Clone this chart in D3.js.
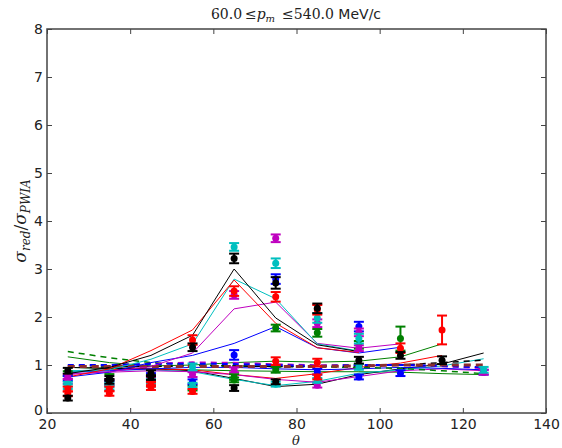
<!DOCTYPE html>
<html>
<head>
<meta charset="utf-8">
<script src="https://cdn.jsdelivr.net/npm/d3@7"></script>
<style>
  html, body { margin: 0; padding: 0; background: #fff; }
  svg { display: block; }
</style>
</head>
<body>
<svg id="chart" width="562" height="448"></svg>
<script>
// Axis ticks
const xTicks = [20, 40, 60, 80, 100, 120, 140];
const yTicks = [0, 1, 2, 3, 4, 5, 6, 7, 8];

// Matplotlib classic colour letters
const colors = { b: "#0000ff", g: "#008000", r: "#ff0000", c: "#00bfbf", m: "#bf00bf", k: "#000000" };

// Measured ratios: [theta, value, error] grouped by colour
const pointsK = [[25,0.88,0.06],[25,0.31,0.05],[35,0.72,0.05],[35,0.66,0.05],[45,0.83,0.06],[45,0.74,0.05],[55,1.37,0.08],[65,3.22,0.1],[65,0.52,0.06],[75,2.71,0.12],[75,0.65,0.05],[85,2.18,0.1],[95,1.1,0.07],[105,1.2,0.07],[115,1.1,0.08]];
const pointsR = [[25,0.5,0.05],[25,0.4,0.05],[35,0.5,0.05],[35,0.41,0.05],[45,0.7,0.06],[45,0.53,0.05],[45,0.6,0.05],[55,1.52,0.1],[55,0.45,0.05],[65,2.54,0.1],[75,2.42,0.1],[75,1.08,0.08],[85,2.15,0.1],[85,1.05,0.08],[85,0.75,0.05],[105,1.35,0.1],[115,1.73,0.3]];
const pointsC = [[25,0.6,0.05],[25,0.55,0.05],[35,0.58,0.05],[35,0.53,0.05],[45,0.6,0.05],[45,0.66,0.05],[55,0.96,0.07],[55,0.58,0.05],[65,3.46,0.08],[75,3.12,0.1],[75,0.6,0.05],[85,1.98,0.1],[85,0.68,0.05],[95,1.55,0.1],[95,0.96,0.06],[125,0.9,0.06]];
const pointsM = [[25,0.66,0.05],[25,0.76,0.05],[35,0.66,0.05],[45,0.72,0.05],[55,0.8,0.05],[65,2.46,0.08],[65,0.9,0.05],[75,3.64,0.08],[85,1.87,0.08],[85,0.58,0.05],[95,1.68,0.08],[95,1.35,0.06],[125,0.85,0.05]];
const pointsB = [[25,0.72,0.05],[35,0.62,0.05],[45,0.78,0.05],[55,0.65,0.05],[65,1.21,0.1],[75,2.79,0.1],[85,0.86,0.06],[95,1.8,0.1],[95,0.75,0.05],[105,0.83,0.06],[125,0.85,0.05]];
const pointsG = [[25,0.82,0.05],[35,0.75,0.06],[55,0.52,0.05],[65,0.75,0.06],[65,0.69,0.05],[75,1.77,0.07],[75,0.9,0.06],[85,1.67,0.08],[95,1.42,0.08],[105,1.55,0.25]];

// Model curves: theta grid and values
const thetaPeak = [25, 35, 45, 55, 65, 75, 85, 95, 105];
const thetaFull = [25, 35, 45, 55, 65, 75, 85, 95, 105, 115, 125];

const peakK = [0.82, 0.95, 1.2, 1.62, 3.0, 1.98, 1.42, 1.28];
const peakR = [0.75, 0.92, 1.3, 1.73, 2.77, 1.87, 1.36, 1.26];
const peakC = [0.85, 0.9, 1.12, 1.44, 2.79, 2.38, 1.44, 1.29];
const peakM = [0.8, 0.86, 0.97, 1.25, 2.17, 2.31, 1.45, 1.35, 1.44];
const peakB = [0.75, 0.85, 1.05, 1.2, 1.45, 1.8, 1.36, 1.25, 1.37];

const flatG1 = [1.17, 1.05, 0.98, 1.0, 1.05, 1.08, 1.06, 1.08, 1.17, 1.44];
const flatG2 = [0.95, 0.93, 0.92, 0.9, 0.88, 0.87, 0.86, 0.86, 0.85, 0.82, 0.8];
const flatK = [0.95, 0.93, 0.92, 0.88, 0.72, 0.55, 0.6, 0.8, 0.92, 1.02, 1.25];
const flatC = [0.88, 0.9, 0.9, 0.86, 0.7, 0.57, 0.66, 0.83, 0.9, 0.98, 1.13];
const flatR = [0.85, 0.9, 0.92, 0.9, 0.8, 0.72, 0.82, 0.95, 1.04, 1.2];
const flatM = [0.82, 0.85, 0.88, 0.86, 0.8, 0.7, 0.64, 0.76, 0.88, 0.92, 0.88];
const flatB = [0.85, 0.88, 0.92, 0.95, 0.95, 0.92, 0.9, 0.92, 0.95, 0.93, 0.9];

const dashDR = [0.97, 0.97, 0.97, 0.97, 0.97, 0.97, 0.97, 0.98, 1.0, 1.0, 1.0];
const dashB = [1.0, 1.0, 1.02, 1.03, 1.02, 1.0, 0.98, 1.0, 1.0, 0.98, 0.95];
const dashG = [1.28, 1.15, 1.05, 1.0, 0.98, 0.97, 0.96, 0.95, 0.93, 0.88, 0.82];
const dashK = [0.95, 0.96, 0.97, 0.98, 0.98, 0.97, 0.97, 0.98, 1.0, 1.05, 1.1];
const dashM = [0.98, 1.0, 1.03, 1.06, 1.05, 1.02, 1.0, 1.0, 1.0, 0.97, 0.93];

const svg = d3.select("#chart");
const L = 47, R = 546, T = 29, B = 413;
const x = d3.scaleLinear().domain([20, 140]).range([L, R]);
const y = d3.scaleLinear().domain([0, 8]).range([B, T]);

const plot = svg.append("g");
plot.append("clipPath").attr("id", "clip").append("rect")
  .attr("x", L).attr("y", T).attr("width", R - L).attr("height", B - T);
const inner = plot.append("g").attr("clip-path", "url(#clip)");

const line = d3.line().x(d => x(d[0])).y(d => y(d[1]));
function curve(thetas, vals, col, opts = {}) {
  inner.append("path")
    .datum(vals.map((v, i) => [thetas[i], v]))
    .attr("d", line)
    .attr("fill", "none")
    .attr("stroke", col)
    .attr("stroke-width", opts.w || 1)
    .attr("stroke-dasharray", opts.dash || null);
}

// flat model curves
curve(thetaFull, flatG1, colors.g);
curve(thetaFull, flatG2, colors.g);
curve(thetaFull, flatK, colors.k);
curve(thetaFull, flatC, colors.c);
curve(thetaFull, flatR, colors.r);
curve(thetaFull, flatM, colors.m);
curve(thetaFull, flatB, colors.b);
// dashed model curves
curve(thetaFull, dashG, colors.g, { w: 1.5, dash: "6,5" });
curve(thetaFull, dashK, colors.k, { w: 1.5, dash: "6,5" });
curve(thetaFull, dashM, colors.m, { w: 1.5, dash: "6,5" });
curve(thetaFull, dashB, colors.b, { w: 2, dash: "6,5" });
curve(thetaFull, dashDR, "#8b2e2e", { w: 3, dash: "7,5" });
// peaked model curves
curve(thetaPeak, peakB, colors.b);
curve(thetaPeak, peakM, colors.m);
curve(thetaPeak, peakC, colors.c);
curve(thetaPeak, peakR, colors.r);
curve(thetaPeak, peakK, colors.k);

// data points with error bars
function points(data, col) {
  const g = inner.append("g");
  const cap = 5;
  data.forEach(([t, v, e]) => {
    const px = x(t);
    g.append("line").attr("x1", px).attr("x2", px).attr("y1", y(v - e)).attr("y2", y(v + e))
      .attr("stroke", col).attr("stroke-width", 2);
    [v - e, v + e].forEach(c => {
      g.append("line").attr("x1", px - cap).attr("x2", px + cap).attr("y1", y(c)).attr("y2", y(c))
        .attr("stroke", col).attr("stroke-width", 2);
    });
    g.append("circle").attr("cx", px).attr("cy", y(v)).attr("r", 3.5).attr("fill", col);
  });
}
points(pointsG, colors.g);
points(pointsB, colors.b);
points(pointsM, colors.m);
points(pointsC, colors.c);
points(pointsR, colors.r);
points(pointsK, colors.k);

// axes: ticks point inward on all four sides
const fontTick = "DejaVu Sans, sans-serif";
const axB = svg.append("g").attr("transform", `translate(0,${B})`)
  .call(d3.axisBottom(x).tickValues(xTicks).tickFormat(d3.format("d")).tickSize(-5).tickPadding(6));
const axL = svg.append("g").attr("transform", `translate(${L},0)`)
  .call(d3.axisLeft(y).tickValues(yTicks).tickFormat(d3.format("d")).tickSize(-5).tickPadding(4));
const axT = svg.append("g").attr("transform", `translate(0,${T})`)
  .call(d3.axisTop(x).tickValues(xTicks).tickFormat("").tickSize(-5));
const axR = svg.append("g").attr("transform", `translate(${R},0)`)
  .call(d3.axisRight(y).tickValues(yTicks).tickFormat("").tickSize(-5));
[axB, axL, axT, axR].forEach(a => {
  a.select(".domain").remove();
  a.selectAll(".tick line").attr("stroke", "#444").attr("stroke-width", 1);
  a.selectAll("text").attr("font-family", fontTick).attr("font-size", 14).attr("fill", "#222");
});
// lift the bottom-left "0" so it clears the "20" below it
axL.selectAll(".tick").filter(d => d === 0).select("text").attr("dy", "0.1em");
svg.append("rect").attr("x", L).attr("y", T).attr("width", R - L).attr("height", B - T)
  .attr("fill", "none").attr("stroke", "#444").attr("stroke-width", 1.5);

// title
const serif = "DejaVu Serif, serif";
const title = svg.append("text").attr("x", 296).attr("y", 19).attr("text-anchor", "middle")
  .attr("font-size", 14).attr("fill", "#222");
title.append("tspan").attr("font-family", serif).text("60.0\u2009\u2264");
title.append("tspan").attr("font-family", serif).attr("font-style", "italic").text("p");
title.append("tspan").attr("font-family", serif).attr("font-style", "italic").attr("font-size", 10).attr("dy", 3).text("m");
title.append("tspan").attr("font-family", serif).attr("dy", -3).text("\u2002\u2264540.0 ");
title.append("tspan").attr("font-family", fontTick).text("MeV/c");

// x label
svg.append("text").attr("x", 296).attr("y", 445).attr("text-anchor", "middle")
  .attr("font-family", serif).attr("font-style", "italic").attr("font-size", 13).attr("fill", "#222")
  .text("\u03b8");

// y label
const yl = svg.append("text").attr("transform", "translate(26,221) rotate(-90)")
  .attr("text-anchor", "middle").attr("font-family", serif).attr("font-style", "italic")
  .attr("font-size", 17).attr("fill", "#222");
yl.append("tspan").text("\u03c3");
yl.append("tspan").attr("font-size", 12).attr("dy", 4).text("red");
yl.append("tspan").attr("dy", -4).attr("font-style", "normal").text("/");
yl.append("tspan").text("\u03c3");
yl.append("tspan").attr("font-size", 12).attr("dy", 4).text("PWIA");
</script>
</body>
</html>
